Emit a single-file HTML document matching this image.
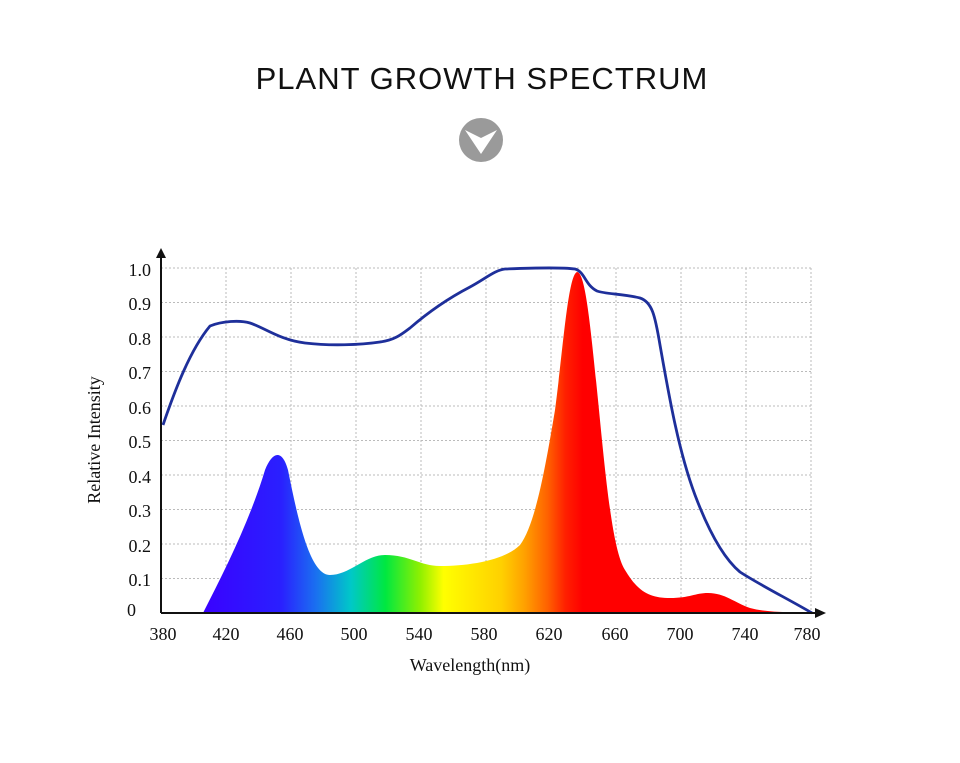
<!DOCTYPE html>
<html><head><meta charset="utf-8"><style>
html,body{margin:0;padding:0;background:#fff;width:960px;height:763px;overflow:hidden}
</style></head><body>
<svg width="960" height="763" xmlns="http://www.w3.org/2000/svg">
<defs>
<linearGradient id="sp" x1="200" x2="780" y1="0" y2="0" gradientUnits="userSpaceOnUse">
<stop offset="0" stop-color="#3a00ff"/>
<stop offset="0.14" stop-color="#2a20ff"/>
<stop offset="0.2" stop-color="#1a70f0"/>
<stop offset="0.26" stop-color="#00c8c8"/>
<stop offset="0.32" stop-color="#00e840"/>
<stop offset="0.38" stop-color="#90f000"/>
<stop offset="0.42" stop-color="#ffff00"/>
<stop offset="0.52" stop-color="#ffd000"/>
<stop offset="0.56" stop-color="#ffa000"/>
<stop offset="0.6" stop-color="#ff6000"/>
<stop offset="0.63" stop-color="#ff2000"/>
<stop offset="0.66" stop-color="#ff0000"/>
<stop offset="1" stop-color="#ff0000"/>
</linearGradient>
</defs>
<text x="482" y="89" text-anchor="middle" font-family="Liberation Sans, sans-serif" font-size="31" letter-spacing="1" fill="#111">PLANT GROWTH SPECTRUM</text>
<circle cx="481" cy="140" r="22" fill="#9a9a9a"/>
<path d="M465 130 L481 154 L497 130 L481 138 Z" fill="#fff"/>
<g stroke="#bbb" stroke-dasharray="2,2" stroke-width="1">
<line x1="161" x2="812" y1="268" y2="268"/><line x1="161" x2="812" y1="302.5" y2="302.5"/>
<line x1="161" x2="812" y1="337" y2="337"/><line x1="161" x2="812" y1="371.5" y2="371.5"/>
<line x1="161" x2="812" y1="406" y2="406"/><line x1="161" x2="812" y1="440.5" y2="440.5"/>
<line x1="161" x2="812" y1="475" y2="475"/><line x1="161" x2="812" y1="509.5" y2="509.5"/>
<line x1="161" x2="812" y1="544" y2="544"/><line x1="161" x2="812" y1="578.5" y2="578.5"/>
<line x1="226" x2="226" y1="268" y2="613"/><line x1="291" x2="291" y1="268" y2="613"/>
<line x1="356" x2="356" y1="268" y2="613"/><line x1="421" x2="421" y1="268" y2="613"/>
<line x1="486" x2="486" y1="268" y2="613"/><line x1="551" x2="551" y1="268" y2="613"/>
<line x1="616" x2="616" y1="268" y2="613"/><line x1="681" x2="681" y1="268" y2="613"/>
<line x1="746" x2="746" y1="268" y2="613"/><line x1="811" x2="811" y1="268" y2="613"/>
</g>
<path d="M203 613 C225 570 250 520 265 470 C272 452 282 448 288 470 C298 520 310 575 330 575 C350 575 365 555 385 555 C410 555 420 566 440 566 C470 566 505 560 520 545 C535 525 545 470 555 410 C563 350 568 275 577 272 C585 272 590 320 598 400 C605 470 612 550 625 570 C638 592 650 598 670 598 C690 598 695 593 708 593 C725 593 735 603 750 608 C765 612 780 612 812 613 Z" fill="url(#sp)"/>
<path d="M163 425 C175 390 190 350 210 326 C222 321 240 320 250 323 C265 328 280 340 305 343 C330 346 360 345 380 342 C395 340 402 334 410 328 C425 315 445 300 470 287 C485 279 495 270 505 269 C530 268 560 267 575 269 C585 272 585 285 597 291 C605 294 625 294 640 298 C652 302 655 315 660 345 C668 390 678 450 695 495 C712 540 728 562 740 572 C760 585 790 600 812 613" fill="none" stroke="#1e2f9a" stroke-width="2.8"/>
<line x1="161" y1="613" x2="161" y2="255" stroke="#111" stroke-width="2"/>
<path d="M156 258 L161 248 L166 258 Z" fill="#111"/>
<line x1="161" y1="613" x2="818" y2="613" stroke="#111" stroke-width="2"/>
<path d="M815 608 L826 613 L815 618 Z" fill="#111"/>
<g font-family="Liberation Serif, serif" font-size="18" fill="#111" text-anchor="end">
<text x="151" y="276">1.0</text><text x="151" y="310">0.9</text><text x="151" y="345">0.8</text>
<text x="151" y="379">0.7</text><text x="151" y="414">0.6</text><text x="151" y="448">0.5</text>
<text x="151" y="483">0.4</text><text x="151" y="517">0.3</text><text x="151" y="552">0.2</text>
<text x="151" y="586">0.1</text><text x="136" y="616">0</text>
</g>
<g font-family="Liberation Serif, serif" font-size="18" fill="#111" text-anchor="middle">
<text x="163" y="640">380</text><text x="226" y="640">420</text><text x="290" y="640">460</text>
<text x="354" y="640">500</text><text x="419" y="640">540</text><text x="484" y="640">580</text>
<text x="549" y="640">620</text><text x="615" y="640">660</text><text x="680" y="640">700</text>
<text x="745" y="640">740</text><text x="807" y="640">780</text>
<text x="470" y="671">Wavelength(nm)</text>
<text transform="translate(100,440) rotate(-90)">Relative Intensity</text>
</g>
</svg>
</body></html>
